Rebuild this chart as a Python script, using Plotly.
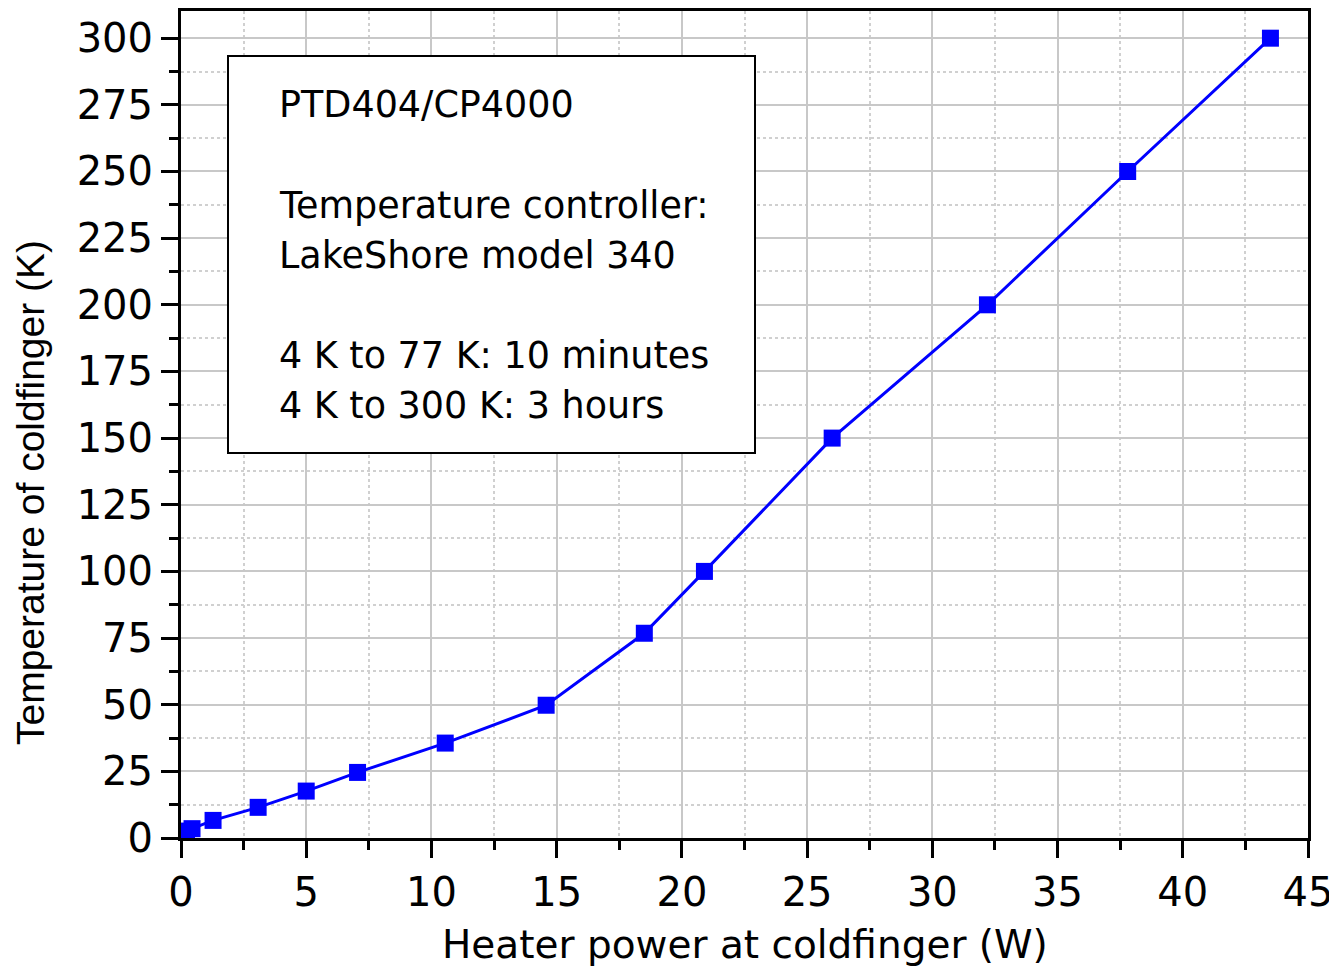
import plotly.graph_objects as go

power_w = [0.22, 0.44, 1.28, 3.08, 5.0, 7.05, 10.55, 14.58, 18.5, 20.9, 26.0, 32.2, 37.8, 43.5]
temp_k = [2.6, 3.5, 6.6, 11.5, 17.6, 24.6, 35.6, 49.8, 76.8, 100.0, 150.0, 200.0, 250.0, 300.0]

x_ticks = [0, 5, 10, 15, 20, 25, 30, 35, 40, 45]
y_ticks = [0, 25, 50, 75, 100, 125, 150, 175, 200, 225, 250, 275, 300]

info_lines = [
    "PTD404/CP4000",
    "",
    "Temperature controller:",
    "LakeShore model 340",
    "",
    "4 K to 77 K: 10 minutes",
    "4 K to 300 K: 3 hours",
]

FONT_H = "DejaVu Sans, Verdana, sans-serif"
FONT_V = "Liberation Sans, Arial, sans-serif"

# page geometry of the plot area (the page adds an 8px body margin)
OFF = 8
PL, PR, PT, PB = 181, 1308, 11, 838
PW, PH = PR - PL, PB - PT


def py(page_y):
    return (PB - page_y) / PH


def px(page_x):
    return (page_x - PL) / PW


fig = go.Figure()
fig.add_trace(go.Scatter(
    x=power_w, y=temp_k, mode="lines+markers",
    line=dict(color="#0000ff", width=3),
    marker=dict(symbol="square", size=17, color="#0000ff"),
    showlegend=False,
))

axis_common = dict(
    showline=True, linecolor="black", linewidth=3, mirror=True,
    ticks="outside", ticklen=17, tickwidth=3, tickcolor="black",
    showgrid=True, gridcolor="#c8c8c8", gridwidth=1.5,
    zeroline=False, automargin=False,
    tickfont=dict(family=FONT_H, size=40, color="black"),
)

fig.update_xaxes(
    range=[0, 45], tickvals=x_ticks,
    minor=dict(dtick=2.5, ticklen=9, tickwidth=3, tickcolor="black",
               showgrid=True, gridcolor="#d0d0d0", griddash="dot", gridwidth=1.5),
    **axis_common,
)
fig.update_yaxes(
    range=[0, 310.2], tickvals=y_ticks,
    minor=dict(dtick=12.5, ticklen=9, tickwidth=3, tickcolor="black",
               showgrid=True, gridcolor="#d0d0d0", griddash="dot", gridwidth=1.5),
    **axis_common,
)

fig.add_shape(type="rect", xref="paper", yref="paper",
              x0=px(228), x1=px(755), y0=py(453), y1=py(56),
              line=dict(color="black", width=2), fillcolor="white", layer="above")

for i, line in enumerate(info_lines):
    if not line:
        continue
    fig.add_annotation(
        text=line, xref="paper", yref="paper",
        x=px(277), y=py(105 + 50 * i), xanchor="left", yanchor="middle", align="left",
        showarrow=False, font=dict(family=FONT_H, size=36.5, color="black"),
    )

fig.add_annotation(
    text="Heater power at coldfinger (W)", xref="paper", yref="paper",
    x=0.5, y=0, yshift=-(944 - PB), xanchor="center", yanchor="middle",
    showarrow=False, font=dict(family=FONT_H, size=39, color="black"),
)
fig.add_annotation(
    text="Temperature of coldfinger (K)", xref="paper", yref="paper",
    x=0, xshift=-(PL - 30), y=py(493), xanchor="center", yanchor="middle",
    textangle=-90, showarrow=False, font=dict(family=FONT_V, size=39, color="black"),
)

fig.update_layout(
    width=1337 - OFF, height=970 - OFF,
    margin=dict(l=PL - OFF, r=1337 - PR, t=PT - OFF, b=970 - PB, autoexpand=False),
    plot_bgcolor="white", paper_bgcolor="white",
    font=dict(family=FONT_H, color="black"),
)

fig.write_html("out.html")
